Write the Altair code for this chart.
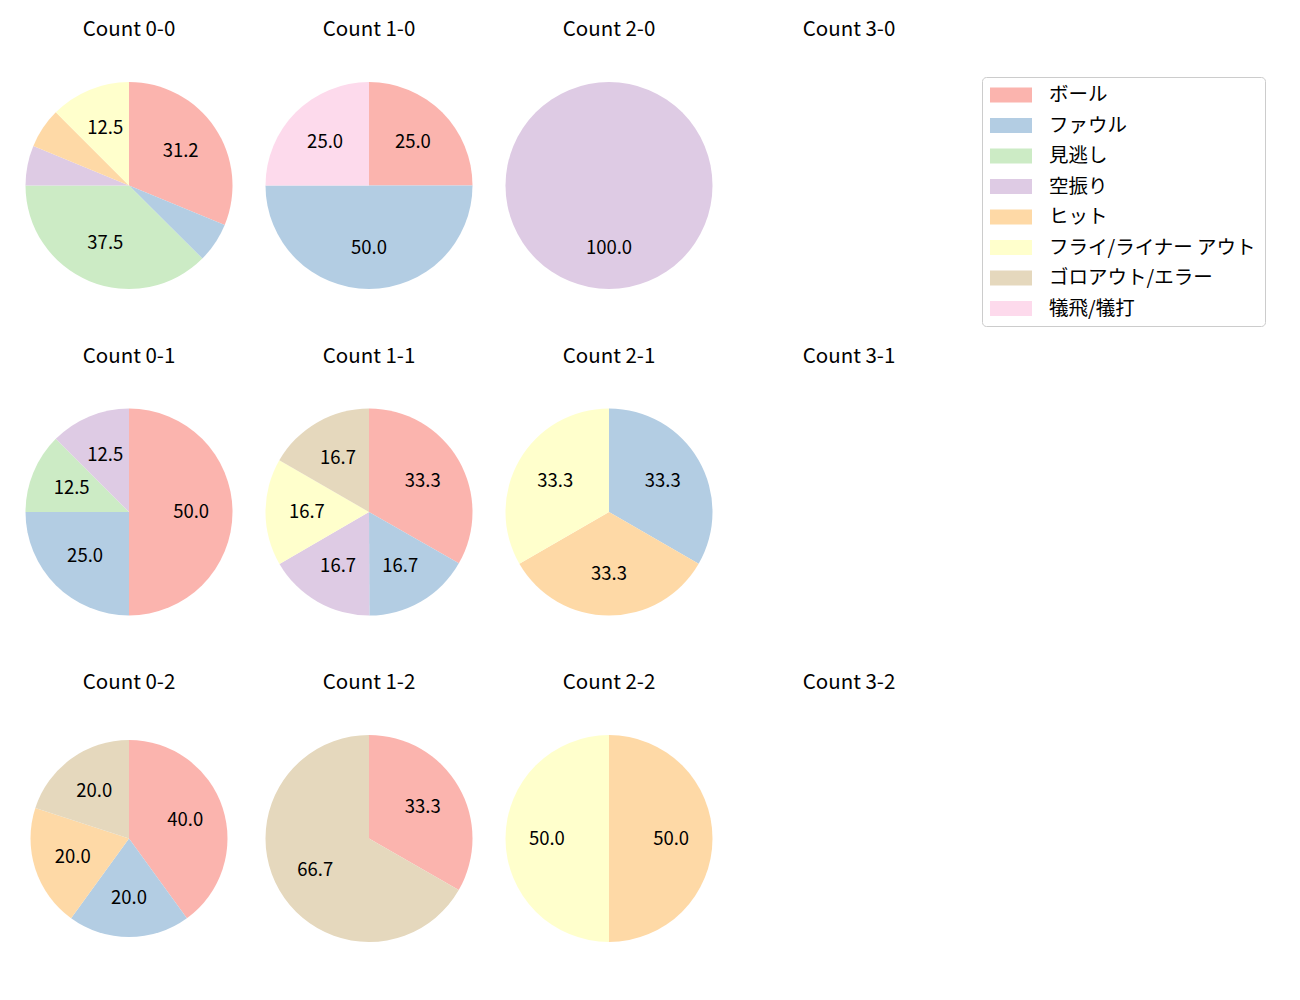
import altair as alt
import pandas as pd

categories = ["ボール", "ファウル", "見逃し", "空振り", "ヒット",
              "フライ/ライナー アウト", "ゴロアウト/エラー", "犠飛/犠打"]
colors = ["#fbb4ae", "#b3cde3", "#ccebc5", "#decbe4", "#fed9a6",
          "#ffffcc", "#e5d8bd", "#fddaec"]

# percentages per count, in category order
count_0_0 = [31.2, 6.25, 37.5, 6.25, 6.25, 12.5, 0, 0]
count_1_0 = [25.0, 50.0, 0, 0, 0, 0, 0, 25.0]
count_2_0 = [0, 0, 0, 100.0, 0, 0, 0, 0]
count_3_0 = [0, 0, 0, 0, 0, 0, 0, 0]
count_0_1 = [50.0, 25.0, 12.5, 12.5, 0, 0, 0, 0]
count_1_1 = [33.3, 16.7, 0, 16.7, 0, 16.7, 16.7, 0]
count_2_1 = [0, 33.3, 0, 0, 33.3, 33.3, 0, 0]
count_3_1 = [0, 0, 0, 0, 0, 0, 0, 0]
count_0_2 = [40.0, 20.0, 0, 0, 20.0, 0, 20.0, 0]
count_1_2 = [33.3, 0, 0, 0, 0, 0, 66.7, 0]
count_2_2 = [0, 0, 0, 0, 50.0, 50.0, 0, 0]
count_3_2 = [0, 0, 0, 0, 0, 0, 0, 0]

grid = [
    [("Count 0-0", count_0_0), ("Count 1-0", count_1_0), ("Count 2-0", count_2_0), ("Count 3-0", count_3_0)],
    [("Count 0-1", count_0_1), ("Count 1-1", count_1_1), ("Count 2-1", count_2_1), ("Count 3-1", count_3_1)],
    [("Count 0-2", count_0_2), ("Count 1-2", count_1_2), ("Count 2-2", count_2_2), ("Count 3-2", count_3_2)],
]
radii = {"Count 0-2": 98.5}

FONT = "Noto Sans CJK JP"
W, H = 232, 293

color_scale = alt.Scale(domain=categories, range=colors)


def panel(title, values):
    rows = [{"cat": c, "order": i, "value": v}
            for i, (c, v) in enumerate(zip(categories, values)) if v > 0]
    if rows:
        df = pd.DataFrame(rows)
    else:
        df = pd.DataFrame({"cat": pd.Series([], dtype=str),
                           "order": pd.Series([], dtype=int),
                           "value": pd.Series([], dtype=float)})
    r = radii.get(title, 103.5)
    base = alt.Chart(df).encode(
        theta=alt.Theta("value:Q", stack=True),
        order=alt.Order("order:Q"),
    ).transform_calculate(
        label="datum.value >= 10 ? format(datum.value, '.1f') : ''"
    )
    arc = base.mark_arc(outerRadius=r).encode(
        color=alt.Color("cat:N", scale=color_scale, sort=categories,
                        legend=alt.Legend(title=None)),
    )
    text = base.mark_text(radius=r * 0.6, font=FONT, fontSize=18.5,
                          color="black").encode(text="label:N")
    return alt.layer(arc, text).properties(
        width=W, height=H,
        title=alt.TitleParams(title, font=FONT, fontSize=20.5,
                              fontWeight="normal", color="black", offset=-1.5),
    )


rows_charts = [alt.hconcat(*[panel(t, v) for t, v in row], spacing=8) for row in grid]
chart = alt.vconcat(*rows_charts, spacing=14.5).resolve_scale(color="shared").properties(
    padding={"top": 12, "left": 5, "right": 5, "bottom": 5}
).configure_view(
    stroke=None
).configure_legend(
    orient="none", legendX=969, legendY=38,
    symbolType="M-1,-0.75L3.2,-0.75L3.2,0.75L-1,0.75Z", symbolSize=400,
    symbolStrokeWidth=0, labelFont=FONT, labelFontSize=19.5, labelColor="black",
    labelLimit=400, rowPadding=10.5, strokeColor="#cccccc", fillColor="white",
    padding=8, cornerRadius=4, labelOffset=39,
)

chart.save("out.html", embed_options={"renderer": "svg", "actions": False})
